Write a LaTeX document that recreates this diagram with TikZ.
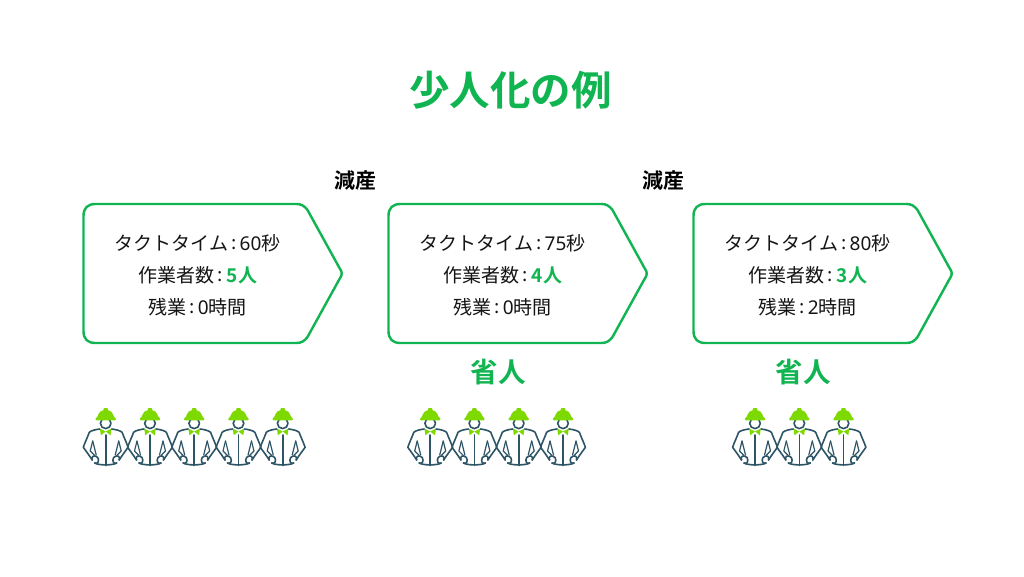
\documentclass[tikz,border=0pt]{standalone}
\usepackage{fontspec}
\setmainfont{Noto Sans CJK JP}
\newfontfamily\cjkbold{Noto Sans CJK JP Bold}
\newfontfamily\digits{Noto Sans}
\definecolor{grn}{HTML}{10B450}
\definecolor{lime}{HTML}{7ED900}
\definecolor{navy}{HTML}{2E5566}
\definecolor{ink}{HTML}{151515}
\tikzset{
  x=1pt,y=-1pt,
  arrowbox/.style={draw=grn,line width=2.4pt,line join=round,fill=white},
  txt/.style={text=ink,font=\fontsize{19}{19}\selectfont,inner sep=0pt,anchor=center},
  head/.style={text=black,font=\cjkbold\fontsize{21}{21}\selectfont,inner sep=0pt,anchor=center},
  saving/.style={text=grn,font=\cjkbold\fontsize{27.5}{27.5}\selectfont,inner sep=0pt,anchor=center},
  wline/.style={draw=navy,line width=1.6pt,line cap=round,line join=round,fill=none},
  wthin/.style={draw=navy,line width=1.2pt,line cap=round,line join=round,fill=none},
  worker/.pic={
    \draw[wline] (0,15.3) circle (5.3);
    \fill[lime] (-9.8,10.2) .. controls (-8.5,9.5) and (-7.8,8) .. (-7.4,6.5) .. controls (-6.8,4) and (-4.5,2.6) .. (-2.4,2.3) -- (-2,0.4) -- (-1,0) -- (1,0) -- (2,0.4) -- (2.4,2.3) .. controls (4.5,2.6) and (6.8,4) .. (7.4,6.5) .. controls (7.8,8) and (8.5,9.5) .. (9.8,10.2) .. controls (10.6,11.3) and (10.2,12.3) .. (9,12.3) -- (-9,12.3) .. controls (-10.2,12.3) and (-10.6,11.3) .. (-9.8,10.2) -- cycle;
    \fill[lime] (0,23.5) -- (-5.8,20.5) -- (-4.8,27.3) -- cycle;
    \fill[lime] (0,23.5) -- (5.8,20.5) -- (4.8,27.3) -- cycle;
    \draw[wline] (-6,21) .. controls (-10,21.5) and (-14.5,22.5) .. (-16.4,24.3) .. controls (-18.5,30) and (-21,35) .. (-22.4,39.3) .. controls (-19,44) and (-16,48) .. (-13.5,52);
    \draw[wline] (6,21) .. controls (10,21.5) and (14.5,22.5) .. (16.4,24.3) .. controls (18.5,30) and (21,35) .. (22.4,39.3) .. controls (19,44) and (16,48) .. (13.5,52);
    \draw[wline] (0,27) -- (0,57.5);
    \draw[wline] (-13.5,52) .. controls (-15,48) and (-11,46.5) .. (-8,49.5) .. controls (-6,53) and (-8,56.5) .. (-11,55);
    \draw[wline] (13.5,52) .. controls (15,48) and (11,46.5) .. (8,49.5) .. controls (6,53) and (8,56.5) .. (11,55);
    \draw[wline] (-11,55) .. controls (-7,57.5) and (7,57.5) .. (11,55);
    \draw[wthin] (-13,33) -- (-15.5,43) -- (-11,47.5);
    \draw[wthin] (13,33) -- (15.5,43) -- (11,47.5);
    \draw[wthin] (-13,33) -- (-10.5,43) -- (-9.5,47);
    \draw[wthin] (13,33) -- (10.5,43) -- (9.5,47);
  }
}
\newcommand{\gbold}[1]{{\cjkbold\color{grn}#1}}
\newcommand{\clon}{\hspace{3pt}\makebox[5pt]{\raisebox{1.6pt}{:}}\hspace{3.5pt}}
\begin{document}
\begin{tikzpicture}
\useasboundingbox (0,0) rectangle (1024,576);
\fill[white] (0,0) rectangle (1024,576);
\node[text=grn,font=\cjkbold\fontsize{40.5}{40.5}\selectfont,inner sep=0pt] (title) at (510.5,90) {少人化の例};
\node[head] (g1) at (355.5,180) {減産};
\node[head] (g2) at (663.5,180) {減産};
\foreach \n/\x/\t/\w/\o in {a/83.5/60/5/0,b/388.5/75/4/0,c/693.5/80/3/2}{
  \draw[arrowbox] (\x+12,204) -- (\x+213,204) .. controls (\x+218,204) and (\x+221,206) .. (\x+224,210) -- (\x+256,268) .. controls (\x+259,272) and (\x+259,275) .. (\x+256,279) -- (\x+224,337) .. controls (\x+221,341) and (\x+218,343) .. (\x+213,343) -- (\x+12,343) .. controls (\x+4,343) and (\x+0,339) .. (\x+0,331) -- (\x+0,216) .. controls (\x+0,208) and (\x+4,204) .. (\x+12,204) -- cycle;
  \node[txt] (\n1) at (\x+114,243.5) {タクトタイム\clon{\digits\t}秒};
  \node[txt] (\n2) at (\x+114.5,275.5) {作業者数\clon\gbold{\w\hspace{1pt}人}};
  \node[txt] (\n3) at (\x+114,307.5) {残業\clon{\digits\o}時間};
}
\node[saving] (s1) at (498,372) {省人};
\node[saving] (s2) at (803,372) {省人};
\foreach \cx in {105.7,150,194.2,238.5,282.7, 430.2,474.4,518.7,563, 755,799.3,843.5}{
  \pic at (\cx,408) {worker};
}
\end{tikzpicture}
\end{document}
